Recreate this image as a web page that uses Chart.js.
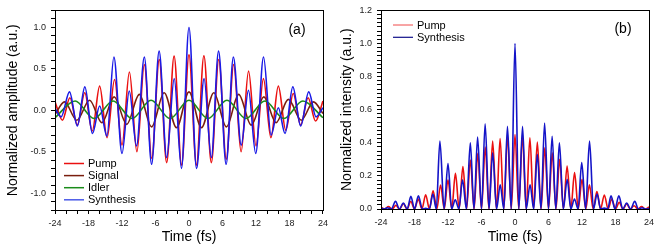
<!DOCTYPE html>
<html><head><meta charset="utf-8">
<script src="https://cdn.jsdelivr.net/npm/chart.js@4.4.1/dist/chart.umd.min.js"></script>
<style>
html,body{margin:0;padding:0;background:#fff;}
#wrap{position:relative;width:664px;height:250px;overflow:hidden;}
canvas{position:absolute;top:0;}
#ca{left:0;} #cb{left:332px;}
</style></head><body>
<div id="wrap"><canvas id="ca" width="332" height="250"></canvas><canvas id="cb" width="332" height="250"></canvas></div>
<script>
const FONT = "Arial, 'Liberation Sans', Helvetica, sans-serif";

// ---------- Panel (a): normalized amplitude (extrema) ----------
const seriesNamesA = ['Pump', 'Signal', 'Idler', 'Synthesis'];
const pumpT = [-24,-22.67,-21.33,-20,-18.67,-17.33,-16,-14.67,-13.33,-12,-10.67,-9.33,-8,-6.67,-5.33,-4,-2.67,-1.33,0,1.33,2.67,4,5.33,6.67,8,9.33,10.67,12,13.33,14.67,16,17.33,18.67,20,21.33,22.67,24];
const pumpA = [0.10,-0.12,0.15,-0.18,0.21,-0.25,0.29,-0.33,0.37,-0.42,0.46,-0.50,0.55,-0.58,0.61,-0.63,0.65,-0.66,0.667,-0.66,0.655,-0.63,0.61,-0.59,0.55,-0.50,0.47,-0.43,0.38,-0.33,0.29,-0.24,0.20,-0.18,0.15,-0.13,0.11];
const signalT = [-24,-22.3,-20.1,-17.8,-15.6,-13.4,-11.15,-8.9,-6.7,-4.45,-2.23,0,2.23,4.45,6.7,8.9,11.15,13.4,15.6,17.8,20.1,22.3,24];
const signalA = [-0.05,0.10,-0.12,0.12,-0.15,0.16,-0.17,0.19,-0.20,0.21,-0.21,0.22,-0.21,0.21,-0.20,0.19,-0.18,0.16,-0.15,0.13,-0.12,0.10,-0.04];
const idlerT = [-24,-20.4,-17,-13.6,-10.2,-6.8,-3.4,0,3.4,6.8,10.2,13.6,17,20.4,24];
const idlerA = [-0.09,0.11,-0.10,0.11,-0.10,0.12,-0.10,0.12,-0.10,0.12,-0.10,0.11,-0.10,0.11,-0.09];
const synT = [-24,-22.9,-21.4,-20.0,-18.65,-17.3,-16.0,-14.7,-13.45,-12.0,-10.7,-9.4,-8.0,-6.7,-5.35,-4.0,-2.65,-1.35,0,1.35,2.7,4.0,5.3,6.65,7.95,9.35,10.65,11.95,13.35,14.7,16.0,17.2,18.6,20.0,21.45,22.75,24];
const synA = [0.02,-0.08,0.22,-0.19,0.28,-0.28,0.05,-0.31,0.64,-0.52,0.23,-0.43,0.64,-0.65,0.71,-0.57,0.38,-0.70,0.995,-0.70,0.38,-0.57,0.71,-0.65,0.64,-0.42,0.24,-0.52,0.64,-0.30,0.03,-0.28,0.28,-0.19,0.22,-0.08,0.03];

// ---------- Panel (b): normalized intensity ----------
const seriesNamesB = ['Pump', 'Synthesis'];
const pumpIT = [-24,-23.33,-22.67,-22,-21.33,-20.67,-20,-19.33,-18.67,-18,-17.33,-16.67,-16,-15.33,-14.67,-14,-13.33,-12.67,-12,-11.33,-10.67,-10,-9.33,-8.67,-8,-7.33,-6.67,-6,-5.33,-4.67,-4,-3.33,-2.67,-2,-1.33,-0.67,0,0.67,1.33,2,2.67,3.33,4,4.67,5.33,6,6.67,7.33,8,8.67,9.33,10,10.67,11.33,12,12.67,13.33,14,14.67,15.33,16,16.67,17.33,18,18.67,19.33,20,20.67,21.33,22,22.67,23.33,24];
const pumpI = [0.01,0,0.015,0,0.022,0,0.032,0,0.045,0,0.06,0,0.086,0,0.11,0,0.145,0,0.176,0,0.216,0,0.256,0,0.296,0,0.337,0,0.375,0,0.41,0,0.426,0,0.44,0,0.45,0,0.44,0,0.43,0,0.405,0,0.37,0,0.34,0,0.30,0,0.26,0,0.22,0,0.18,0,0.146,0,0.105,0,0.085,0,0.06,0,0.04,0,0.03,0,0.02,0,0.015,0,0.012];
const synIT = [-24,-23.45,-22.9,-22.15,-21.4,-20.7,-20,-19.3,-18.65,-18,-17.3,-16.6,-16,-15.35,-14.7,-14.1,-13.45,-12.7,-12,-11.35,-10.7,-10.05,-9.4,-8.7,-8,-7.35,-6.7,-6,-5.35,-4.65,-4,-3.3,-2.65,-2,-1.35,-0.68,0,0.68,1.35,2,2.7,3.35,4,4.65,5.3,6,6.65,7.3,7.95,8.65,9.35,10,10.65,11.3,11.95,12.65,13.35,14.05,14.7,15.35,16,16.6,17.2,17.9,18.6,19.3,20,20.7,21.45,22.1,22.75,23.4,24];
const synI = [0.005,0,0.008,0,0.046,0,0.036,0,0.076,0,0.08,0,0.004,0,0.09,0,0.41,0,0.275,0,0.056,0,0.176,0,0.40,0,0.435,0,0.515,0,0.34,0,0.146,0,0.50,0,1.0,0,0.50,0,0.146,0,0.33,0,0.52,0,0.44,0,0.40,0,0.18,0,0.06,0,0.28,0,0.41,0,0.09,0,0.005,0,0.08,0,0.08,0,0.036,0,0.046,0,0.008,0,0.003];

// ---------- axis ticks ----------
const xMin = -24, xMax = 24, xMinorStep = 2, xLabelStep = 6;
const yAMin = -1.2, yAMax = 1.2, yAMinorStep = 0.1, yALabelStep = 0.5;
const yBMin = 0, yBMax = 1.2, yBMinorStep = 0.025, yBLabelStep = 0.2;

const pts = (t, v) => t.map((x, i) => ({x: x, y: v[i]}));

const framePlugin = {
  id: 'frame',
  afterDatasetsDraw(chart, args, o) {
    const {ctx, chartArea: a} = chart;
    ctx.save();
    ctx.strokeStyle = '#000'; ctx.lineWidth = 1;
    const l = Math.round(a.left) + 0.5, t = Math.round(a.top) + 0.5;
    ctx.strokeRect(l, t, Math.round(a.right) - Math.round(a.left), Math.round(a.bottom) - Math.round(a.top));
    ctx.fillStyle = '#000';
    ctx.font = '14px ' + FONT; ctx.textAlign = 'center'; ctx.textBaseline = 'middle';
    ctx.fillText(o.label, o.labelX, o.labelY);
    ctx.font = '11px ' + FONT; ctx.textAlign = 'left';
    o.items.forEach((it, i) => {
      const y = o.legY + i * o.legDy;
      ctx.strokeStyle = it.color; ctx.lineWidth = it.w;
      ctx.beginPath(); ctx.moveTo(o.legX, y); ctx.lineTo(o.legX + o.legLen, y); ctx.stroke();
      ctx.fillStyle = '#000';
      ctx.fillText(chart.data.datasets[it.ds].label, o.legX + o.legLen + 4, y + 0.5);
    });
    ctx.restore();
  }
};

function xScale(h) {
  return {
    type: 'linear', min: xMin, max: xMax,
    afterFit(s) { s.height = h; },
    border: {display: true, color: '#000', width: 1},
    grid: {display: true, drawOnChartArea: false, drawTicks: true, tickLength: 4, color: '#000', tickColor: '#000'},
    ticks: {stepSize: xMinorStep, autoSkip: false, maxRotation: 0, padding: 4, color: '#222',
      font: {family: FONT, size: 9},
      callback: v => (Math.abs(v % xLabelStep) < 1e-6 ? String(Math.round(v)) : '')},
    title: {display: true, text: 'Time (fs)', color: '#000', font: {family: FONT, size: 14}, padding: {top: 0, bottom: 4}}
  };
}
function yScale(min, max, step, lab, w, title, tpad) {
  return {
    type: 'linear', min: min, max: max,
    afterFit(s) { s.width = w; },
    border: {display: true, color: '#000', width: 1},
    grid: {display: true, drawOnChartArea: false, drawTicks: true, tickLength: 4, color: '#000', tickColor: '#000'},
    ticks: {stepSize: step, autoSkip: false, padding: 5, color: '#222', font: {family: FONT, size: 9},
      callback: v => { const r = v / lab; return Math.abs(r - Math.round(r)) < 1e-6 ? (Math.round(v * 10) / 10).toFixed(1) : ''; }},
    title: {display: true, text: title, color: '#000', font: {family: FONT, size: 14}, padding: {top: tpad, bottom: 0}}
  };
}
const lineDs = (label, data, color, order, w) => ({
  label, data, borderColor: color, backgroundColor: color, borderWidth: w || 1.6,
  pointRadius: 0, fill: false, cubicInterpolationMode: 'monotone', order
});

new Chart(document.getElementById('ca'), {
  type: 'line',
  data: {datasets: [
    lineDs(seriesNamesA[0], pts(pumpT, pumpA), '#ea1010', 3),
    lineDs(seriesNamesA[1], pts(signalT, signalA), '#7a1e0e', 2),
    lineDs(seriesNamesA[2], pts(idlerT, idlerA), '#1a8c1a', 1),
    lineDs(seriesNamesA[3], pts(synT, synA), '#1a1ae6', 0)
  ]},
  options: {
    responsive: false, animation: false, devicePixelRatio: 1,
    layout: {padding: {top: 8, right: 8, left: 0, bottom: 0}},
    scales: {x: xScale(40), y: yScale(yAMin, yAMax, yAMinorStep, yALabelStep, 55, 'Normalized amplitude (a.u.)', 5)},
    plugins: {legend: {display: false}, tooltip: {enabled: false},
      frame: {label: '(a)', labelX: 297, labelY: 30.5, legX: 64, legLen: 20, legY: 163.5, legDy: 12.1,
        items: [{ds: 0, color: '#ea1010', w: 1.5}, {ds: 1, color: '#7a1e0e', w: 1.5}, {ds: 2, color: '#1a8c1a', w: 1.5}, {ds: 3, color: '#4a5ae8', w: 1.5}]}}
  },
  plugins: [framePlugin]
});

new Chart(document.getElementById('cb'), {
  type: 'line',
  data: {datasets: [
    lineDs(seriesNamesB[0], pts(pumpIT, pumpI), '#ea1010', 1),
    lineDs(seriesNamesB[1], pts(synIT, synI), '#1414c8', 0)
  ]},
  options: {
    responsive: false, animation: false, devicePixelRatio: 1,
    layout: {padding: {top: 9, right: 15, left: 0, bottom: 0}},
    scales: {x: xScale(41), y: yScale(yBMin, yBMax, yBMinorStep, yBLabelStep, 49, 'Normalized intensity (a.u.)', 7)},
    plugins: {legend: {display: false}, tooltip: {enabled: false},
      frame: {label: '(b)', labelX: 291, labelY: 29.5, legX: 61, legLen: 20, legY: 25, legDy: 12.3,
        items: [{ds: 0, color: '#f04a4a', w: 1}, {ds: 1, color: '#10108a', w: 1.2}]}}
  },
  plugins: [framePlugin]
});
</script>
</body></html>
